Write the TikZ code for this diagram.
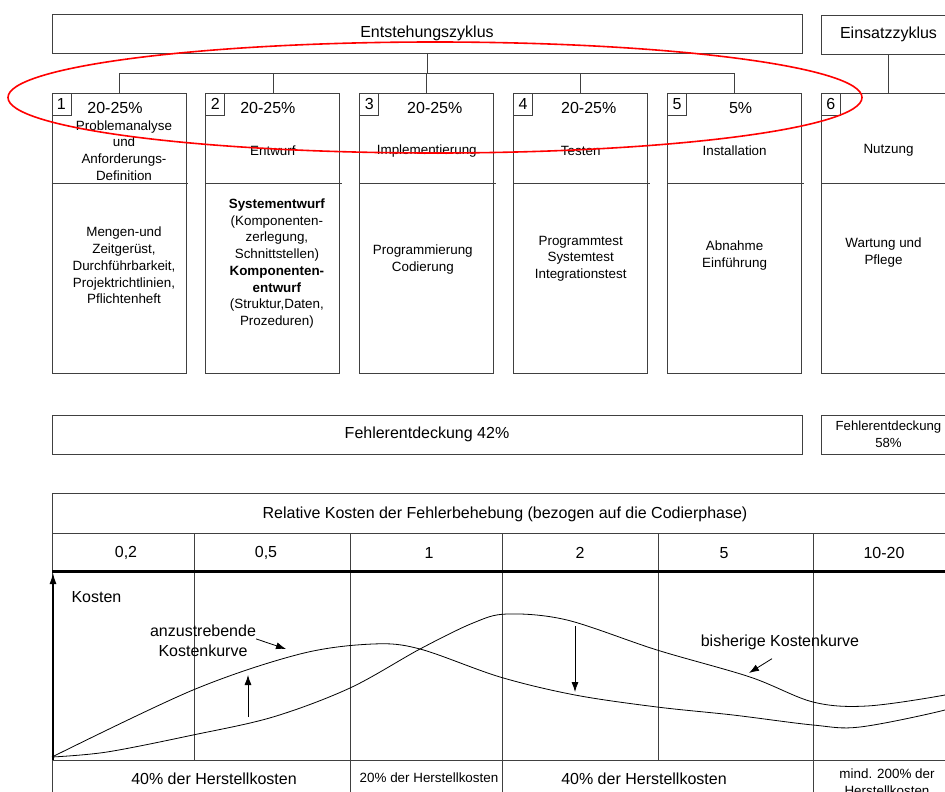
\documentclass[tikz,border=0pt]{standalone}
\usepackage{fontspec}
\setmainfont{Liberation Sans}
\usetikzlibrary{positioning,arrows.meta}

\definecolor{rahmen}{gray}{0.25}

\tikzset{
  gross/.style={font=\fontsize{16}{20}\selectfont},
  klein/.style={font=\fontsize{13.4}{16.7}\selectfont, align=center},
  kopfbox/.style={draw=rahmen, line width=0.9pt, minimum height=39pt, inner sep=0pt, gross},
  phasenbox/.style={draw=rahmen, line width=0.9pt, minimum width=134pt, minimum height=280pt, inner sep=0pt},
  nummer/.style={draw=rahmen, line width=0.7pt, minimum width=19pt, minimum height=22pt, inner sep=0pt, anchor=north west, gross},
  linie/.style={draw=rahmen, line width=0.8pt},
  pfeil/.style={line width=0.8pt, -{Latex[length=10pt,width=7pt]}},
}

\begin{document}
\begin{tikzpicture}[x=1pt,y=-1pt]
    \clip (0,0) rectangle (945,792);

    \node[kopfbox, minimum width=750pt] (entstehung) at (427,33.5) {Entstehungszyklus};
    \node[kopfbox, minimum width=134pt] (einsatz) at (888.5,34.5) {Einsatzzyklus};

    \foreach \i/\x in {1/119,2/272.9,3/426.8,4/580.7,5/734.6,6/888.5}{
      \node[phasenbox] (p\i) at (\x,233) {};
      \draw[linie] ([yshift=-91pt]p\i.north west) -- ([yshift=-91pt,xshift=2pt]p\i.north east);
      \node[nummer] (n\i) at (p\i.north west) {\i};
    }

    \foreach \i/\p/\dx in {1/20-25\%/-4,2/20-25\%/-5,3/20-25\%/8,4/20-25\%/8,5/5\%/6}
      \node[gross] (q\i) at ([xshift=\dx pt,yshift=-15pt]p\i.north) {\p};

    \coordinate (schiene) at (0,73);
    \foreach \i in {1,...,5}
      \draw[linie] (entstehung.south) -- (entstehung.south |- schiene) -| (p\i.north);
    \draw[linie] (einsatz.south) -- (p6.north);

\node[klein] (t1) at ([xshift=5pt,yshift=-58pt]p1.north) {Problemanalyse\\und\\Anforderungs-\\Definition};
\node[klein] (t2) at ([yshift=-58pt]p2.north) {Entwurf};
\node[klein] (t3) at ([yshift=-58pt]p3.north) {Implementierung};
\node[klein] (t4) at ([yshift=-58pt]p4.north) {Testen};
\node[klein] (t5) at ([yshift=-58pt]p5.north) {Installation};
\node[klein] (t6) at ([yshift=-58pt]p6.north) {Nutzung};

\node[klein] (b1) at ([xshift=5pt,yshift=-173pt]p1.north) {Mengen-und\\Zeitgerüst,\\Durchführbarkeit,\\Projektrichtlinien,\\Pflichtenheft};
\node[klein] (b2) at ([xshift=4pt,yshift=-171pt]p2.north) {\textbf{Systementwurf}\\(Komponenten-\\zerlegung,\\Schnittstellen)\\\textbf{Komponenten-}\\\textbf{entwurf}\\(Struktur,Daten,\\Prozeduren)};
\node[klein] (b3) at ([xshift=-4pt,yshift=-167pt]p3.north) {Programmierung\\Codierung};
\node[klein] (b4) at ([yshift=-166pt]p4.north) {Programmtest\\Systemtest\\Integrationstest};
\node[klein] (b5) at ([yshift=-163pt]p5.north) {Abnahme\\Einführung};
\node[klein] (b6) at ([xshift=-5pt,yshift=-160pt]p6.north) {Wartung und\\Pflege};

    \node[kopfbox, minimum width=750pt] (fehler42) at (427,434.5) {Fehlerentdeckung 42\%};
    \node[kopfbox, minimum width=134pt, klein, font=\fontsize{13.2}{17}\selectfont] (fehler58) at (888.5,434.5) {Fehlerentdeckung\\58\%};

    \draw[linie] (52,493) rectangle (965,830);
    \draw[linie] (52,533) -- (965,533);
    \draw[linie] (52,760) -- (965,760);
    \foreach \x in {194,350,502,658,813} \draw[linie] (\x,533) -- (\x,760);
    \foreach \x in {350,502,813} \draw[linie] (\x,760) -- (\x,830);
    \draw[line width=2.2pt] (52,571.5) -- (965,571.5);

\node[gross] (relkosten) at (505,514) {Relative Kosten der Fehlerbehebung (bezogen auf die Codierphase)};
\node[gross] (w1) at (126,553) {0,2};
\node[gross] (w2) at (266,553) {0,5};
\node[gross] (w3) at (429,553) {1};
\node[gross] (w4) at (580,553) {2};
\node[gross] (w5) at (724,553) {5};
\node[gross] (w6) at (884,553) {10-20};

    \coordinate (ursprung) at (53,760);
    \coordinate (achsenende) at (53,573);
    \draw[line width=1.3pt, -{Latex[length=11pt,width=7pt]}] (ursprung) -- (achsenende);
    \node[gross, anchor=west] (kosten) at (68,597) {Kosten};

    \draw[line width=0.8pt] plot[smooth, tension=0.55] coordinates {(52,757) (193,690) (300,654) (373,644) (420,649) (500,677) (575,695) (657,707) (733,715) (813,725) (860,727) (945,710) (965,700)};
    \draw[line width=0.8pt] plot[smooth, tension=0.55] coordinates {(52,757) (107,752) (193,735) (273,717) (350,688) (420,649) (473,623) (507,614) (567,620) (657,650) (750,677) (813,702) (867,706) (945,695) (965,688)};

    \coordinate (hoch1) at (248,717);
    \coordinate (hoch2) at (248,675);
    \draw[pfeil] (hoch1) -- (hoch2);
    \coordinate (runter1) at (575,626);
    \coordinate (runter2) at (575,692);
    \draw[pfeil] (runter1) -- (runter2);

    \node[gross, align=center, inner sep=0pt] (anzustrebend) at (203,641) {anzustrebende\\Kostenkurve};
    \coordinate (anzuspitze) at (286,649);
    \draw[pfeil] ([yshift=-14pt]anzustrebend.north east) -- (anzuspitze);

    \node[gross, inner sep=0pt] (bisherig) at (780,642) {bisherige Kostenkurve};
    \coordinate (bisspitze) at (749,673);
    \draw[pfeil] ([xshift=-8pt,yshift=-9pt]bisherig.south) -- (bisspitze);

\node[gross] (anteil1) at (214,779) {40\% der Herstellkosten};
\node[klein] (anteil2) at (429,778) {20\% der Herstellkosten};
\node[gross] (anteil3) at (644,779) {40\% der Herstellkosten};
\node[klein] (anteil4) at (887,782) {mind. 200\% der\\Herstellkosten};

    \draw[red, line width=1.6pt] (435,97.5) ellipse [x radius=427pt, y radius=55.5pt];
\end{tikzpicture}
\end{document}
